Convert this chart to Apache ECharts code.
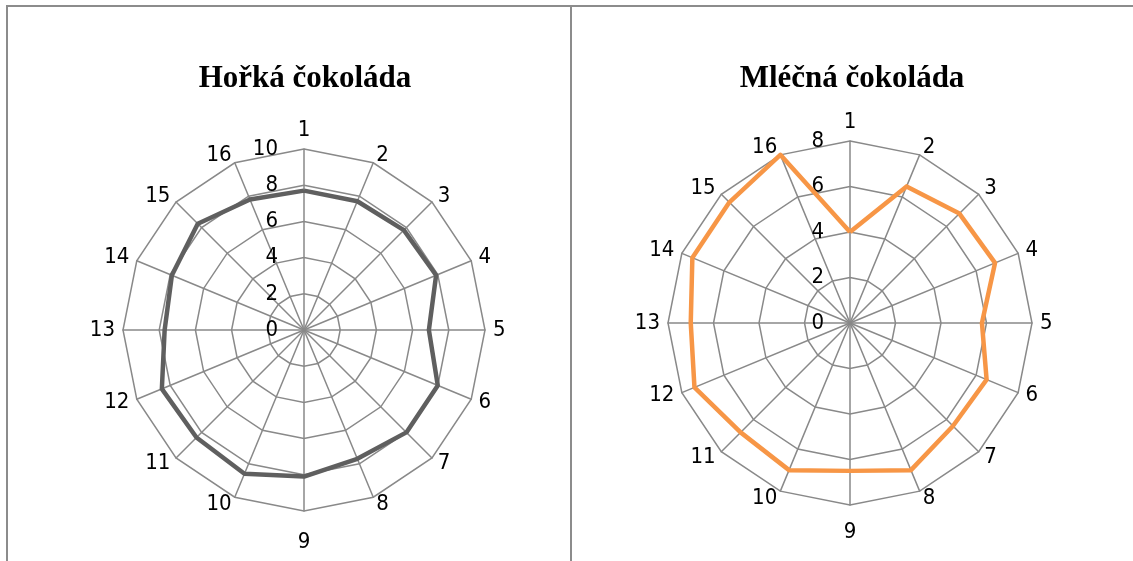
<!DOCTYPE html>
<html>
<head>
<meta charset="utf-8">
<script src="https://cdn.jsdelivr.net/npm/echarts@6/dist/echarts.min.js"></script>
<style>
  html, body { margin: 0; padding: 0; background: #fff; }
  #chart { width: 1133px; height: 561px; }
</style>
</head>
<body>
<div id="chart"></div>
<script>
// Tasting scores per sample for two kinds of chocolate
const categories = ['1', '2', '3', '4', '5', '6', '7', '8', '9', '10', '11', '12', '13', '14', '15', '16'];
const darkValues = [7.7, 7.7, 7.8, 7.9, 6.9, 8.0, 8.0, 7.7, 8.1, 8.6, 8.4, 8.5, 7.7, 7.9, 8.3, 7.8];
const milkValues = [4.0, 6.5, 6.8, 6.9, 5.8, 6.5, 6.4, 7.0, 6.5, 7.0, 6.8, 7.4, 7.0, 7.5, 7.5, 8.0];
const darkTitle = 'Hořká čokoláda';
const milkTitle = 'Mléčná čokoláda';
const darkMax = 10, darkSplit = 5;
const milkMax = 8, milkSplit = 4;

const gridColor = '#898989';
const labelFont = '"DejaVu Sans Condensed", "DejaVu Sans", sans-serif';

// ECharts lays radar indicators out counter-clockwise; walk the samples in
// reverse after the first one so that they run clockwise from the top.
const order = [0].concat(categories.map(function (_, i) { return i; }).slice(1).reverse());
function reorder(arr) { return order.map(function (i) { return arr[i]; }); }

function indicators(max) {
  return reorder(categories).map(function (c, i) {
    const ind = { name: c, min: 0, max: max };
    if (i === 0) {
      ind.axisLabel = { show: true };
    }
    return ind;
  });
}

function radarBase(center, radius, max, split, bottomPad) {
  return {
    center: center,
    radius: radius,
    startAngle: 90,
    shape: 'polygon',
    splitNumber: split,
    indicator: indicators(max),
    nameGap: 8,
    axisName: {
      color: '#000', fontSize: 22, fontFamily: labelFont,
      formatter: function (name) {
        return name === '9' ? '{low|' + name + '}' : name;
      },
      rich: {
        low: { color: '#000', fontSize: 22, fontFamily: labelFont, padding: [bottomPad, 0, 0, 0] }
      }
    },
    axisLine: { lineStyle: { color: gridColor, width: 1.5 } },
    splitLine: { lineStyle: { color: gridColor, width: 1.5 } },
    splitArea: { show: false },
    axisTick: { show: false },
    axisLabel: {
      show: false,
      color: '#000',
      fontSize: 22,
      fontFamily: labelFont,
      margin: 26,
      padding: [6, 0, 0, 0]
    }
  };
}

const chart = echarts.init(document.getElementById('chart'), null, { renderer: 'canvas' });

chart.setOption({
  animation: false,
  backgroundColor: '#fff',
  graphic: [
    { type: 'line', shape: { x1: 6, y1: 6, x2: 1133, y2: 6 }, style: { stroke: '#8c8c8c', lineWidth: 2 } },
    { type: 'line', shape: { x1: 7, y1: 6, x2: 7, y2: 561 }, style: { stroke: '#8c8c8c', lineWidth: 2 } },
    { type: 'line', shape: { x1: 571, y1: 6, x2: 571, y2: 561 }, style: { stroke: '#8c8c8c', lineWidth: 2 } },
    {
      type: 'text', x: 305, y: 79,
      style: { text: darkTitle, align: 'center', verticalAlign: 'middle', fill: '#000',
               font: 'bold 31px "Liberation Serif", "Times New Roman", serif' }
    },
    {
      type: 'text', x: 852, y: 79,
      style: { text: milkTitle, align: 'center', verticalAlign: 'middle', fill: '#000',
               font: 'bold 31px "Liberation Serif", "Times New Roman", serif' }
    }
  ],
  radar: [
    radarBase([304, 330], 181, darkMax, darkSplit, 12),
    radarBase([850, 323], 182, milkMax, milkSplit, 8)
  ],
  series: [
    {
      type: 'radar',
      radarIndex: 0,
      symbol: 'none',
      lineStyle: { color: '#5f5f5f', width: 4.5 },
      data: [{ value: reorder(darkValues), name: darkTitle }]
    },
    {
      type: 'radar',
      radarIndex: 1,
      symbol: 'none',
      lineStyle: { color: '#f79646', width: 4.5 },
      data: [{ value: reorder(milkValues), name: milkTitle }]
    }
  ]
});
</script>
</body>
</html>
